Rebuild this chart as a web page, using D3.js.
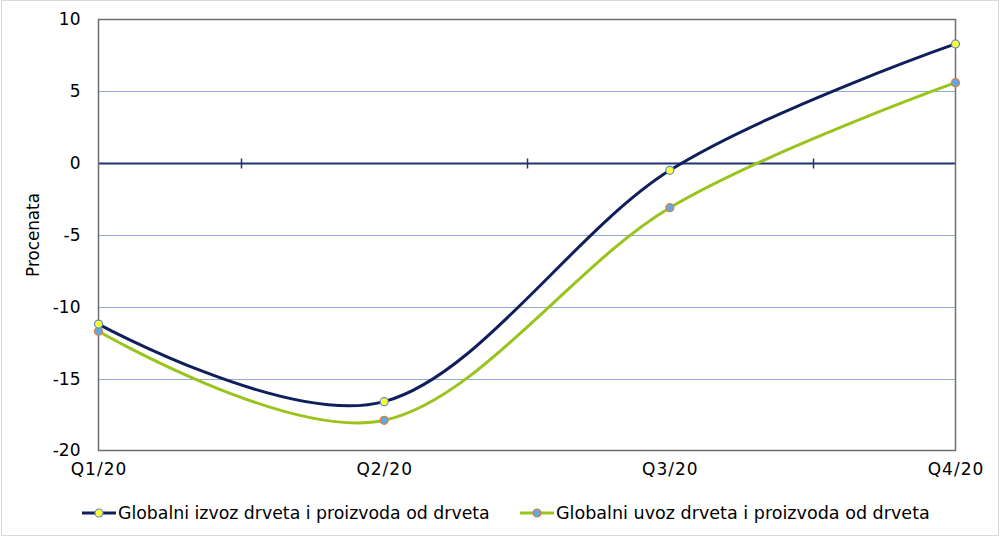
<!DOCTYPE html>
<html><head><meta charset="utf-8">
<script src="https://cdn.jsdelivr.net/npm/d3@7"></script>
<style>body{margin:0;background:#fff;} svg{display:block;}</style>
</head><body>
<svg id="c" width="1000" height="536"></svg>
<script>
const categories = ["Q1/20","Q2/20","Q3/20","Q4/20"];
const exportValues = [-11.2, -16.6, -0.5, 8.3];
const importValues = [-11.7, -17.9, -3.1, 5.6];
const yTicks = [10,5,0,-5,-10,-15,-20];
const seriesNames = ["Globalni izvoz drveta i proizvoda od drveta","Globalni uvoz drveta i proizvoda od drveta"];

const svg = d3.select("#c");
const L=98.5, R=955.5, T=19.5, B=450.5;
const font = "'DejaVu Sans', Verdana, sans-serif";

svg.append("rect").attr("x",1.5).attr("y",0.5).attr("width",997).attr("height",535)
  .attr("fill","#fff").attr("stroke","#d9d9d9");

const x = d3.scalePoint().domain(categories).range([L,R]);
const y = d3.scaleLinear().domain([-20,10]).range([B,T]);

svg.append("g").selectAll("line").data(yTicks.filter(v=>v!==0 && v!==10 && v!==-20)).join("line")
  .attr("x1",L).attr("x2",R).attr("y1",d=>Math.round(y(d))+0.5).attr("y2",d=>Math.round(y(d))+0.5)
  .attr("stroke","#8eaadb").attr("stroke-width",1);

const z = Math.round(y(0))+0.5;
svg.append("line").attr("x1",L).attr("x2",R).attr("y1",z).attr("y2",z).attr("stroke","#1f3370").attr("stroke-width",2);
const mids = d3.pairs(categories).map(p=> (x(p[0])+x(p[1]))/2);
svg.append("g").selectAll("line").data(mids).join("line")
  .attr("x1",d=>Math.round(d)+0.5).attr("x2",d=>Math.round(d)+0.5).attr("y1",z-5).attr("y2",z+5)
  .attr("stroke","#1f3370").attr("stroke-width",1.5);

svg.append("rect").attr("x",L).attr("y",T).attr("width",R-L).attr("height",B-T)
  .attr("fill","none").attr("stroke","#6e6e6e").attr("stroke-width",1.5);

const yAxis = d3.axisLeft(y).tickValues(yTicks).tickFormat(d=>String(d)).tickSize(0).tickPadding(18);
const gy = svg.append("g").attr("transform",`translate(${L},0)`).call(yAxis);
gy.select(".domain").remove();
gy.selectAll("text").attr("font-family",font).attr("font-size",17).attr("fill","#000");

const xAxis = d3.axisBottom(x).tickSize(0).tickPadding(12);
const gx = svg.append("g").attr("transform",`translate(0,${B})`).call(xAxis);
gx.select(".domain").remove();
gx.selectAll("text").attr("font-family",font).attr("font-size",17).attr("fill","#000")
  .attr("letter-spacing",1);

const yt = svg.append("text").attr("transform","translate(39,235) rotate(-90)").attr("text-anchor","middle")
  .attr("font-family",font).attr("font-size",14).text("Procenata");
yt.attr("font-size", 14*84/yt.node().getComputedTextLength());

const line = d3.line().x((d,i)=>x(categories[i])).y(d=>y(d)).curve(d3.curveCardinal.tension(0));
const styles = [
  {vals:exportValues, color:"#0e1f5b", fill:"#ffff33", mstroke:"#5b8bd0"},
  {vals:importValues, color:"#9ac31c", fill:"#5fa8e3", mstroke:"#e07b39"}
];
[styles[1], styles[0]].forEach(s=>{
  svg.append("path").datum(s.vals).attr("d",line).attr("fill","none")
    .attr("stroke",s.color).attr("stroke-width",3);
});
[styles[1], styles[0]].forEach(s=>{
  svg.append("g").selectAll("circle").data(s.vals).join("circle")
    .attr("cx",(d,i)=>x(categories[i])).attr("cy",d=>y(d)).attr("r",4)
    .attr("fill",s.fill).attr("stroke",s.mstroke).attr("stroke-width",1.2);
});

const legX = [82, 520];
styles.forEach((s,i)=>{
  const g = svg.append("g").attr("transform",`translate(${legX[i]},513)`);
  g.append("line").attr("x1",0).attr("x2",34).attr("y1",0).attr("y2",0).attr("stroke",s.color).attr("stroke-width",3);
  g.append("circle").attr("cx",17).attr("cy",0).attr("r",4).attr("fill",s.fill).attr("stroke",s.mstroke).attr("stroke-width",1.2);
  const t = g.append("text").attr("x",36).attr("y",6).attr("font-family",font).attr("font-size",16).text(seriesNames[i]);
  const w = t.node().getComputedTextLength();
  const target = i===0 ? 372 : 374;
  t.attr("font-size", 16*target/w);
});
</script>
</body></html>
